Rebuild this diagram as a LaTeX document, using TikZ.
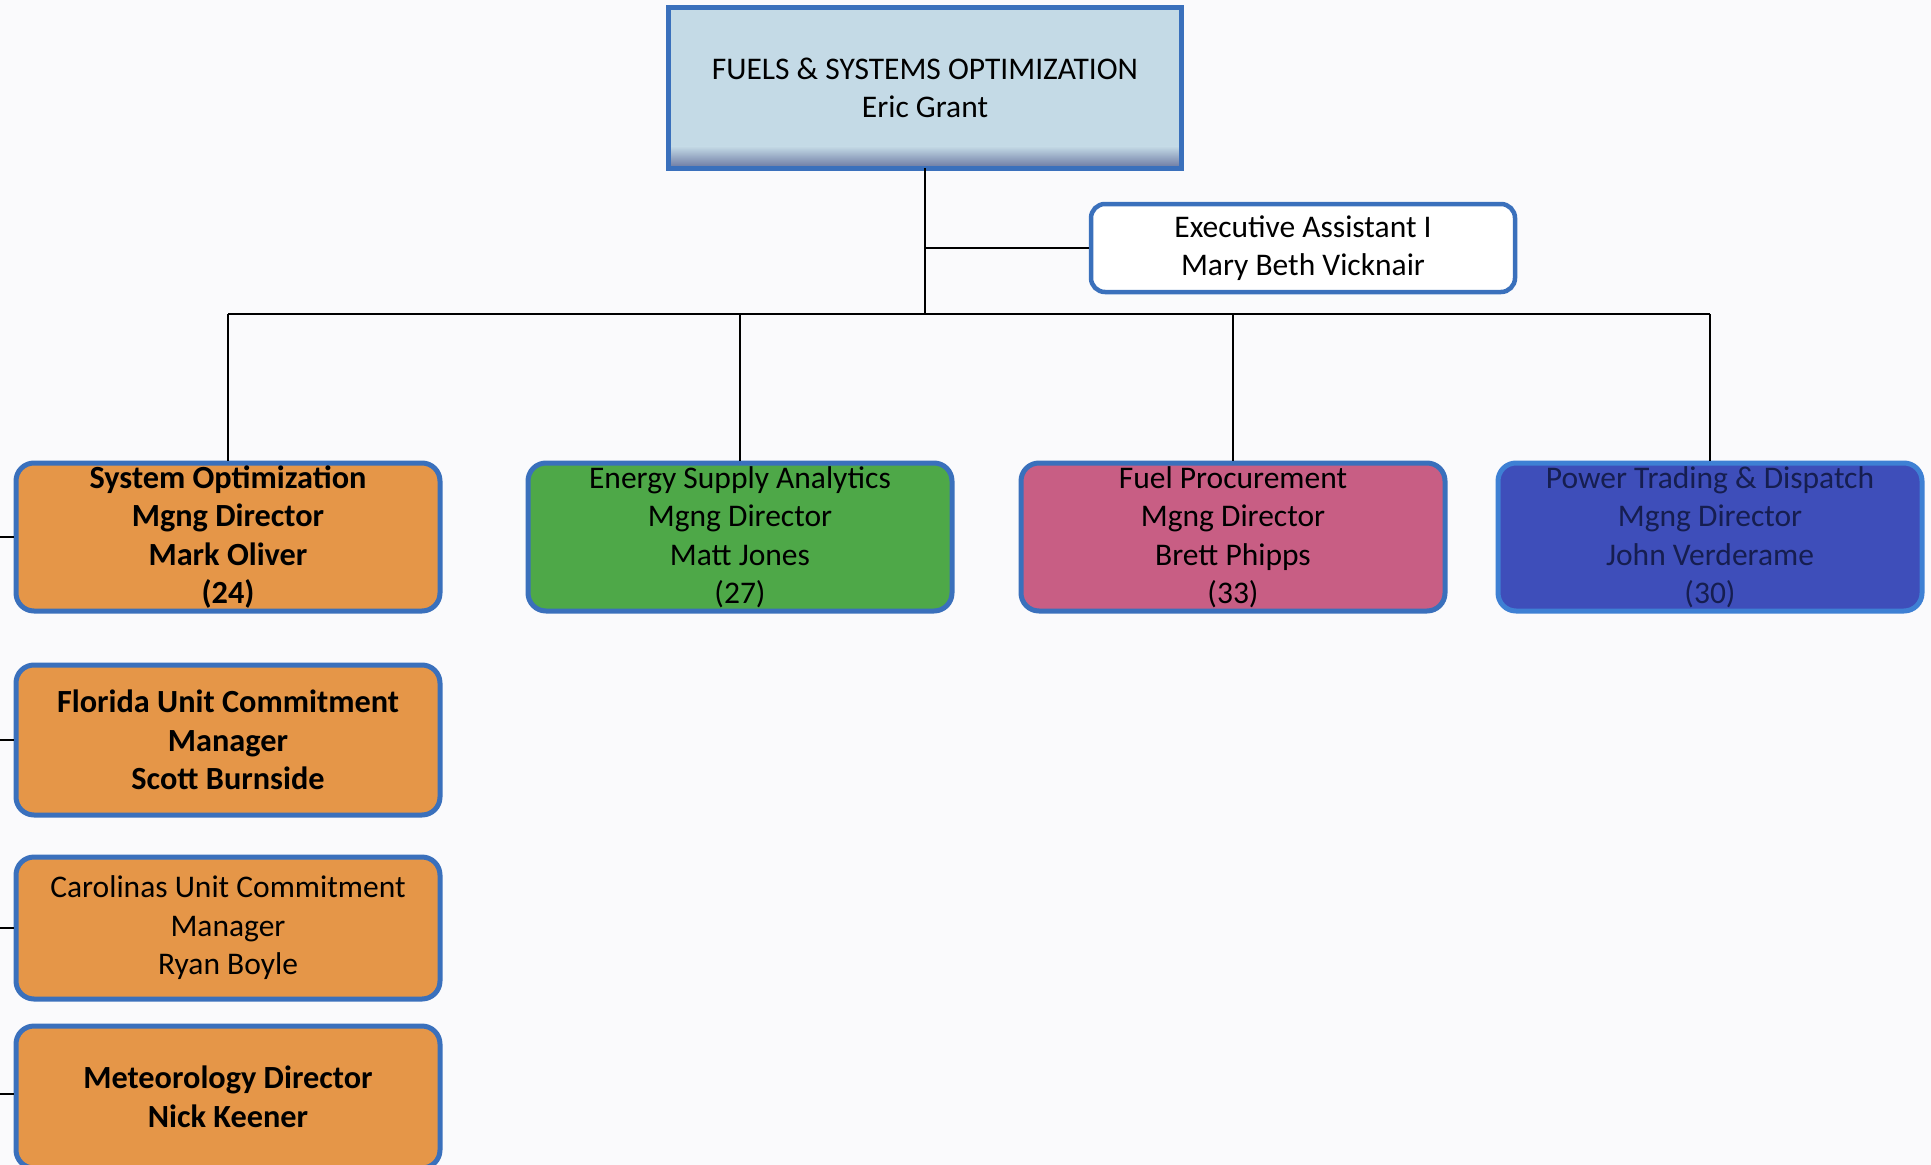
\documentclass[tikz,border=0pt]{standalone}
\usepackage{fontspec}
\setmainfont{Carlito}
\begin{document}
\definecolor{pagebg}{RGB}{250,250,252}
\definecolor{edgeblue}{RGB}{58,112,188}
\definecolor{headfill}{RGB}{196,218,230}
\definecolor{headshade}{RGB}{105,118,160}
\definecolor{orangefill}{RGB}{229,150,72}
\definecolor{greenfill}{RGB}{78,168,72}
\definecolor{pinkfill}{RGB}{200,94,132}
\definecolor{navyfill}{RGB}{62,78,186}
\definecolor{navyedge}{RGB}{62,128,212}
\definecolor{navytext}{RGB}{22,30,80}
\begin{tikzpicture}[x=1pt,y=-1pt,
  txt/.style={font=\fontsize{31.5}{38.5}\selectfont, align=center, inner sep=0pt},
  boldtxt/.style={font=\fontsize{32.3}{38.5}\selectfont\bfseries},
  unit/.style={txt, draw=edgeblue, line width=5pt, rounded corners=18pt,
    minimum width=424pt, minimum height=148pt},
  orangebox/.style={unit, fill=orangefill},
  link/.style={draw=black, line width=2.8pt}]
  \useasboundingbox[fill=pagebg] (0,0) rectangle (1931,1165);

  % head of the department, with its darker band along the bottom
  \node[txt, fill=headfill, minimum width=513pt, minimum height=160pt] (head) at (925,88)
        {FUELS \& SYSTEMS OPTIMIZATION\\Eric Grant};
  \shade[bottom color=headshade, top color=headfill]
        ([shift={(0pt,22pt)}]head.south west) rectangle (head.south east);
  \draw[edgeblue, line width=5pt] (head.south west) rectangle (head.north east);

  % assistant
  \node[txt, draw=edgeblue, line width=4.5pt, fill=white, rounded corners=14pt,
        minimum width=424pt, minimum height=88pt] (exec) at (1303,248)
        {Executive Assistant I\\Mary Beth Vicknair};

  % managing directors
  \node[orangebox, boldtxt] (sysopt) at (228,537)
        {System Optimization\\Mgng Director\\Mark Oliver\\(24)};
  \node[unit, fill=greenfill] (esa) at (740,537)
        {Energy Supply Analytics\\Mgng Director\\Matt Jones\\(27)};
  \node[unit, fill=pinkfill] (fuel) at (1233,537)
        {Fuel Procurement\\Mgng Director\\Brett Phipps\\(33)};
  \node[unit, fill=navyfill, draw=navyedge, text=navytext] (power) at (1710,537)
        {Power Trading \& Dispatch\\Mgng Director\\John Verderame\\(30)};

  % units reporting on the left
  \node[orangebox, boldtxt, minimum height=150pt] (florida) at (228,740)
        {Florida Unit Commitment\\Manager\\Scott Burnside};
  \node[orangebox, minimum height=142pt] (carolinas) at (228,928)
        {Carolinas Unit Commitment\\Manager\\Ryan Boyle};
  \node[orangebox, boldtxt, minimum height=142pt] (meteo) at (228,1097)
        {Meteorology Director\\Nick Keener};

  % connectors
  \coordinate (bar) at (925,314);
  \draw[link] (head.south) -- (bar);
  \draw[link] (head.south |- exec.west) -- (exec.west);
  \draw[link] (sysopt.north |- bar) -- (power.north |- bar);
  \foreach \n in {sysopt,esa,fuel,power}
    \draw[link] (\n.north |- bar) -- (\n.north);
  \foreach \n/\yy in {sysopt/537,florida/740,carolinas/928,meteo/1094} {
    \coordinate (\n-in) at (0,\yy);
    \draw[link] (\n-in) -- (\n.west |- \n-in);
  }
\end{tikzpicture}
\end{document}
